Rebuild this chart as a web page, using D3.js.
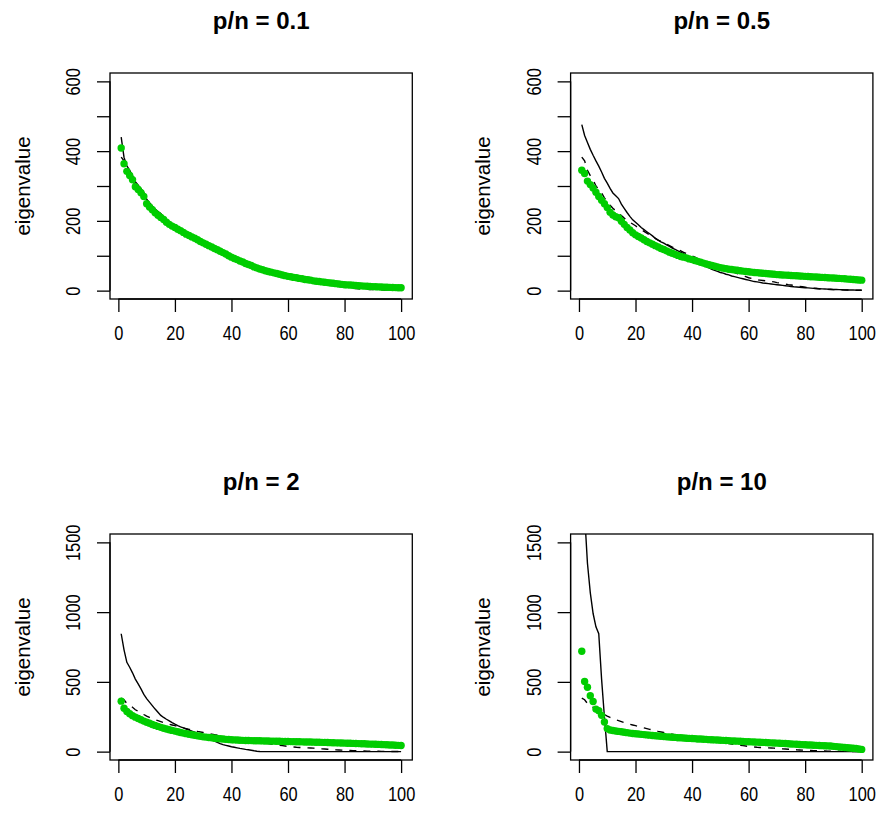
<!DOCTYPE html>
<html>
<head>
<meta charset="utf-8">
<script src="https://cdn.jsdelivr.net/npm/d3@7"></script>
<style>
  body { margin: 0; background: #fff; }
  text { font-family: "Liberation Sans", Arial, Helvetica, sans-serif; fill: #000; }
</style>
</head>
<body>
<div id="chart"></div>
<script>
/* global d3 */
"use strict";

// panel titles (p/n ratio) and y limits
const ratios = ["0.1", "0.5", "2", "10"];
const yMaxes = [600, 600, 1500, 1500];

const xTicks = [0, 20, 40, 60, 80, 100];
const yTicksTop = [0, 100, 200, 300, 400, 500, 600];
const yLabelsTop = [0, 200, 400, 600];
const yTicksBottom = [0, 500, 1000, 1500];
const yLabelsBottom = [0, 500, 1000, 1500];

// population eigenvalues (dashed, same in every panel)
const trueEigen = [
  383, 372, 345, 330, 318, 300, 290, 280, 266, 254,
  245, 236, 229, 222, 215, 208, 202, 196, 191, 186,
  180, 175, 170, 165, 160, 155, 150, 145, 141, 137,
  133, 129, 125, 121, 118, 114, 110, 106, 103, 99,
  96, 92, 89, 86, 82, 79, 76, 73, 70, 67,
  64, 61, 58, 55, 52, 49, 46, 43, 40, 37,
  35, 33, 31, 30, 29, 28, 27, 26, 25, 23,
  22, 20, 19, 17, 16, 15, 13, 12, 11, 10,
  9, 8, 7, 6, 5, 4.5, 4, 3.6, 3.2, 2.9,
  2.6, 2.3, 2.1, 1.9, 1.7, 1.5, 1.3, 1.2, 1.1, 1
];

// sample eigenvalues (solid line)
const sample01 = [
  440, 382, 358, 345, 330, 312, 302, 292, 282, 262,
  252, 243, 234, 227, 221, 211, 202, 195, 189, 184,
  178, 173, 168, 163, 159, 155, 150, 146, 141, 137,
  133, 129, 125, 121, 117, 113, 109, 105, 100, 96,
  92, 88, 85, 81, 78, 74, 71, 68, 65, 62,
  59, 56, 54, 52, 50, 48, 46, 44, 42, 40,
  38, 37, 35, 34, 32, 31, 29, 28, 27, 26,
  25, 24, 23, 22, 21, 20, 19, 18, 17, 16,
  15, 14.5, 14, 13, 12.5, 12, 11.5, 11, 10.5, 10,
  9.5, 9, 8.6, 8.2, 7.8, 7.4, 7, 6.6, 6.2, 5.8
];
const sample05 = [
  476, 445, 425, 405, 388, 372, 357, 340, 322, 308,
  293, 280, 272, 264, 248, 236, 224, 213, 203, 196,
  189, 181, 175, 169, 163, 157, 150, 145, 140, 136,
  131, 127, 122, 118, 114, 110, 106, 100, 95, 89,
  85, 81, 77, 73, 69, 65, 61, 58, 55, 52,
  50, 47, 45, 42, 40, 38, 36, 34, 32, 30,
  28, 26, 25, 23.5, 22, 21, 20, 19, 18, 17,
  16, 15, 14, 13, 12, 11, 10.3, 9.6, 9, 8.4,
  7.8, 7.2, 6.6, 6, 5.5, 5, 4.6, 4.2, 3.8, 3.4,
  3.1, 2.8, 2.5, 2.2, 2, 1.8, 1.6, 1.4, 1.2, 1
];
const sample2 = [
  845, 730, 640, 605, 565, 520, 485, 450, 410, 380,
  355, 330, 305, 282, 260, 245, 232, 220, 208, 197,
  187, 178, 170, 162, 155, 147, 139, 131, 124, 116,
  107, 97, 86, 76, 67, 58, 50, 45, 40, 35,
  31, 27, 23, 20, 16, 13, 10, 6, 3, 0.5,
  0, 0, 0, 0, 0, 0, 0, 0, 0, 0,
  0, 0, 0, 0, 0, 0, 0, 0, 0, 0,
  0, 0, 0, 0, 0, 0, 0, 0, 0, 0,
  0, 0, 0, 0, 0, 0, 0, 0, 0, 0,
  0, 0, 0, 0, 0, 0, 0, 0, 0, 0
];
const sample10 = [
  2300, 1700, 1350, 1140, 990, 895, 845, 520, 250, 0,
  0, 0, 0, 0, 0, 0, 0, 0, 0, 0,
  0, 0, 0, 0, 0, 0, 0, 0, 0, 0,
  0, 0, 0, 0, 0, 0, 0, 0, 0, 0,
  0, 0, 0, 0, 0, 0, 0, 0, 0, 0,
  0, 0, 0, 0, 0, 0, 0, 0, 0, 0,
  0, 0, 0, 0, 0, 0, 0, 0, 0, 0,
  0, 0, 0, 0, 0, 0, 0, 0, 0, 0,
  0, 0, 0, 0, 0, 0, 0, 0, 0, 0,
  0, 0, 0, 0, 0, 0, 0, 0, 0, 0
];

// shrunk eigenvalues (green dots)
const shrunk01 = [
  409, 364, 342, 330, 318, 298, 290, 281, 270, 249,
  240, 232, 223, 216, 210, 204, 196, 190, 185, 181,
  176, 172, 167, 162, 158, 154, 150, 146, 141, 137,
  133, 129, 125, 121, 117, 113, 109, 105, 100, 96,
  92, 89, 85, 82, 78, 75, 72, 68, 65, 62,
  60, 57, 55, 53, 51, 49, 47, 45, 43, 41,
  40, 38, 37, 35, 34, 32, 31, 30, 28, 27,
  26, 25, 24, 23, 22, 21, 20, 19, 18, 17,
  16.5, 16, 15.3, 14.7, 14.1, 13.5, 13, 12.5, 12, 11.5,
  11.1, 10.7, 10.3, 10, 9.6, 9.3, 9, 8.7, 8.4, 8.1
];
const shrunk05 = [
  345, 336, 314, 304, 294, 282, 270, 259, 249, 238,
  225, 217, 212, 209, 199, 190, 181, 174, 166, 160,
  155, 151, 146, 141, 137, 133, 129, 125, 121, 118,
  114, 110, 107, 104, 101, 98, 96, 94, 91, 89,
  86.5, 84, 81.5, 79, 76.5, 74, 72, 70, 68, 66,
  64.5, 63, 61.5, 60.5, 59.5, 58.5, 57, 56, 55, 54,
  53, 52, 51.5, 50.5, 50, 49, 48.5, 47.5, 47, 46,
  45.5, 45, 44.5, 44, 43.5, 43, 42.5, 42, 41.5, 41,
  40.5, 40, 39.5, 39, 38.5, 38, 37.5, 37, 36.5, 36,
  35.5, 35, 34.5, 34, 33, 32.5, 32, 31, 30.5, 30
];
const shrunk2 = [
  362, 311, 288, 272, 258, 247, 237, 228, 219, 211,
  203, 195, 188, 181, 174, 168, 162, 157, 152, 147,
  142, 137, 133, 129, 125, 121, 117, 113, 110, 106,
  104, 101, 99, 96, 94, 92, 90, 88, 87, 85,
  84, 83, 82, 81, 80, 79.5, 79, 78.5, 78, 77.5,
  77, 76.5, 76, 75.5, 75, 74.5, 74, 73.5, 73, 72.5,
  72, 71.5, 71, 70.5, 70, 69.5, 69, 68.5, 68, 67.5,
  67, 66.5, 66, 65, 64.5, 64, 63, 62.5, 62, 61,
  60.5, 60, 59, 58, 57.5, 57, 56, 55, 54, 53.5,
  53, 52, 51, 50, 49, 48, 47, 46, 45, 44
];
const shrunk10 = [
  720, 503, 462, 401, 359, 305, 293, 260, 212, 165,
  155, 151, 148, 145, 142, 139, 136, 133, 130, 128,
  126, 124, 122, 120, 118, 116, 114, 112, 110, 108,
  106, 105, 103, 102, 100, 99, 98, 96, 95, 94,
  93, 91, 90, 89, 88, 86, 85, 84, 83, 82,
  81, 80, 79, 77, 76, 75, 74, 73, 72, 71,
  70, 69, 68, 67, 66, 65, 64, 63, 62, 61,
  60, 59, 58, 57, 55, 54, 53, 51, 50, 49,
  48, 47, 46, 45, 44, 43, 42, 41, 40, 38,
  36, 34, 32, 30, 28, 26, 24, 22, 19, 16
];

const width = 884, height = 813,
      boxW = 302.3, boxH = 226,
      green = "#00cd00",
      tickFont = 20,      // tick labels look tall and narrow in the original
      tickSqueeze = 0.82;

var svg = d3.select("#chart")
    .append("svg")
    .attr("width", width)
    .attr("height", height);
svg.append("defs");

var panels = [
    {title: ratios[0], ymax: yMaxes[0], yTicks: yTicksTop, yLabels: yLabelsTop, solid: sample01, dots: shrunk01},
    {title: ratios[1], ymax: yMaxes[1], yTicks: yTicksTop, yLabels: yLabelsTop, solid: sample05, dots: shrunk05},
    {title: ratios[2], ymax: yMaxes[2], yTicks: yTicksBottom, yLabels: yLabelsBottom, solid: sample2, dots: shrunk2},
    {title: ratios[3], ymax: yMaxes[3], yTicks: yTicksBottom, yLabels: yLabelsBottom, solid: sample10, dots: shrunk10}
];

panels.forEach(function (p, k) {
    drawPanel(p, k);
});

function drawPanel(p, k) {
    var col = k % 2,
        row = Math.floor(k / 2),
        left = 110 + col * 460.6,
        top = 73 + row * 461;

    // R style 4% padding around the data range
    var x = d3.scaleLinear()
        .domain([1 - 0.04 * 99, 100 + 0.04 * 99])
        .range([left, left + boxW]);
    var y = d3.scaleLinear()
        .domain([-0.04 * p.ymax, 1.04 * p.ymax])
        .range([top + boxH, top]);

    var clipId = "clip" + k;
    svg.select("defs").append("clipPath")
        .attr("id", clipId)
        .append("rect")
        .attr("x", left).attr("y", top)
        .attr("width", boxW).attr("height", boxH);

    var g = svg.append("g").attr("clip-path", "url(#" + clipId + ")");

    var line = d3.line()
        .x(function (d, i) { return x(i + 1); })
        .y(function (d) { return y(d); });

    g.append("path")
        .datum(p.solid)
        .attr("d", line)
        .attr("fill", "none")
        .attr("stroke", "#000")
        .attr("stroke-width", 1.4);

    g.append("path")
        .datum(trueEigen)
        .attr("d", line)
        .attr("fill", "none")
        .attr("stroke", "#000")
        .attr("stroke-width", 1.4)
        .attr("stroke-dasharray", "7,7");

    g.selectAll("circle")
        .data(p.dots)
        .enter()
        .append("circle")
        .attr("cx", function (d, i) { return x(i + 1); })
        .attr("cy", function (d) { return y(d); })
        .attr("r", 3.7)
        .attr("fill", green);

    // box
    svg.append("rect")
        .attr("x", left).attr("y", top)
        .attr("width", boxW).attr("height", boxH)
        .attr("fill", "none")
        .attr("stroke", "#000")
        .attr("stroke-width", 1.3);

    // x axis
    var xAxis = svg.append("g")
        .attr("transform", "translate(0," + (top + boxH) + ")")
        .call(d3.axisBottom(x).tickValues(xTicks).tickSize(13).tickSizeOuter(0));
    xAxis.select(".domain").remove();
    xAxis.append("line")
        .attr("x1", x(xTicks[0])).attr("x2", x(xTicks[xTicks.length - 1]))
        .attr("stroke", "#000").attr("stroke-width", 1.3);
    xAxis.selectAll(".tick line").attr("stroke-width", 1.3);
    xAxis.selectAll(".tick text")
        .attr("y", 0).attr("dy", 0)
        .attr("transform", "translate(0,41) scale(" + tickSqueeze + ",1)")
        .style("font-family", null)
        .style("font-size", tickFont + "px")
        .attr("fill", "#000");

    // y axis, labels parallel to the axis like R
    var yAxis = svg.append("g")
        .attr("transform", "translate(" + left + ",0)")
        .call(d3.axisLeft(y).tickValues(p.yTicks).tickSize(13).tickSizeOuter(0)
            .tickFormat(function (d) { return p.yLabels.indexOf(d) !== -1 ? d : ""; }));
    yAxis.select(".domain").remove();
    yAxis.append("line")
        .attr("y1", y(p.yTicks[0])).attr("y2", y(p.yTicks[p.yTicks.length - 1]))
        .attr("stroke", "#000").attr("stroke-width", 1.3);
    yAxis.selectAll(".tick line").attr("stroke-width", 1.3);
    yAxis.selectAll(".tick text")
        .attr("x", 0).attr("dy", 0)
        .attr("transform", "translate(-30,0) rotate(-90) scale(" + tickSqueeze + ",1)")
        .attr("text-anchor", "middle")
        .style("font-size", tickFont + "px")
        .attr("fill", "#000");
    svg.selectAll(".tick text").attr("font-family", null);

    svg.append("text")
        .attr("transform", "translate(" + (left - 80.5) + "," + (top + boxH / 2) + ") rotate(-90)")
        .attr("text-anchor", "middle")
        .style("font-size", "20.5px")
        .text("eigenvalue");

    svg.append("text")
        .attr("x", left + boxW / 2)
        .attr("y", top - 44)
        .attr("text-anchor", "middle")
        .style("font-size", "24px")
        .style("font-weight", "bold")
        .text("p/n = " + p.title);
}
</script>
</body>
</html>
